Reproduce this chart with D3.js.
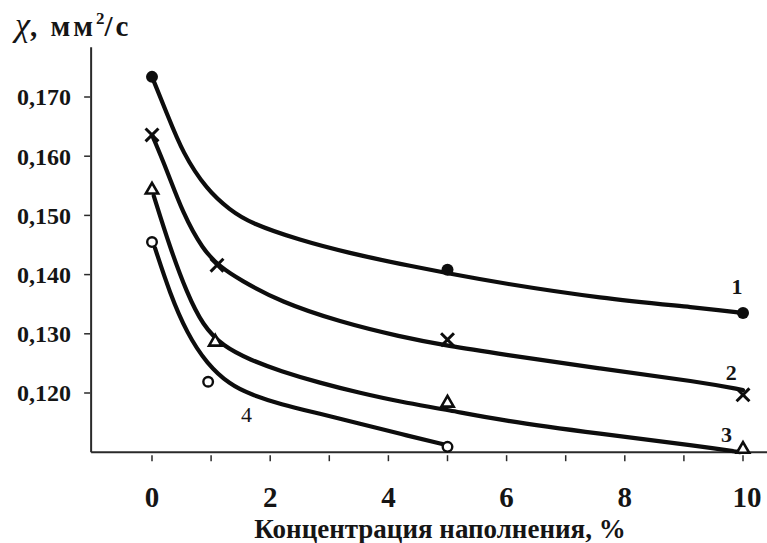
<!DOCTYPE html>
<html>
<head>
<meta charset="utf-8">
<script src="https://cdn.jsdelivr.net/npm/d3@7/dist/d3.min.js"></script>
<style>
  html, body { margin: 0; padding: 0; background: #fff; }
  svg { display: block; }
  text { font-family: "Liberation Serif", "Times New Roman", serif; fill: #151515; }
</style>
</head>
<body>
<svg id="chart" width="767" height="543"></svg>
<script>
// Thermal diffusivity vs filler concentration, four samples.
const xTicks = [0, 2, 4, 6, 8, 10];
const xMinorTicks = [1, 3, 5, 7, 9];
const yTicks = [0.120, 0.130, 0.140, 0.150, 0.160, 0.170];
const yTickLabels = ["0,120", "0,130", "0,140", "0,150", "0,160", "0,170"];
const seriesNames = ["1", "2", "3", "4"];

// measured points [concentration %, χ mm²/s]
const points1 = [[0, 0.1734], [5, 0.1408], [10, 0.1335]];
const points2 = [[0, 0.1636], [1.1, 0.1416], [5, 0.1290], [10, 0.1197]];
const points3 = [[0, 0.1543], [1.07, 0.1286], [5, 0.1183], [10, 0.1105]];
const points4 = [[0, 0.1455], [0.95, 0.1219], [5, 0.1109]];

// smoothed approximating curves
const fit1 = [[0, 0.1734], [0.25, 0.1673], [0.52, 0.1605], [0.93, 0.1543], [1.32, 0.1509], [1.66, 0.1487],
              [2.5, 0.1458], [3.35, 0.1436], [4.2, 0.1418], [5.06, 0.1401], [5.89, 0.1386], [7.58, 0.1360],
              [9.27, 0.1344], [10, 0.1335]];
const fit2 = [[0, 0.1636], [0.25, 0.1577], [0.52, 0.1504], [0.86, 0.1442], [1.15, 0.1413], [1.49, 0.1391],
              [2.17, 0.1354], [3.18, 0.1320], [4.2, 0.1295], [5.03, 0.1279], [5.89, 0.1266], [7.58, 0.1241],
              [9.27, 0.1219], [10, 0.1205]];
const fit3 = [[0.03, 0.1533], [0.3, 0.1447], [0.59, 0.1369], [0.86, 0.1314], [1.2, 0.1279], [1.66, 0.1256],
              [2.17, 0.1237], [2.84, 0.1217], [3.52, 0.1200], [4.2, 0.1185], [5.04, 0.1171], [5.89, 0.1154],
              [7.58, 0.1131], [9.27, 0.1110], [9.95, 0.1100]];
const fit4 = [[0.05, 0.1445], [0.3, 0.1369], [0.59, 0.1301], [0.93, 0.1249], [1.32, 0.1214], [1.66, 0.1198],
              [2.17, 0.1181], [2.84, 0.1165], [3.52, 0.1148], [4.2, 0.1131], [4.99, 0.1112]];

const svg = d3.select("#chart");

const x = d3.scaleLinear().domain([0, 10]).range([152, 743]);
const y = d3.scaleLinear().domain([0.12, 0.17]).range([393, 97]);

const xAxisStart = -1.03, xAxisEnd = 10.42;
const yAxisStart = 0.110, yAxisEnd = 0.1784;
const axisColor = "#2a2a2a";

// axes lines
svg.append("line")
  .attr("x1", x(xAxisStart)).attr("x2", x(xAxisStart))
  .attr("y1", y(yAxisStart)).attr("y2", y(yAxisEnd))
  .attr("stroke", axisColor).attr("stroke-width", 2);
svg.append("line")
  .attr("x1", x(xAxisStart)).attr("x2", x(xAxisEnd))
  .attr("y1", y(yAxisStart)).attr("y2", y(yAxisStart))
  .attr("stroke", axisColor).attr("stroke-width", 2);

// y ticks + labels
const yg = svg.append("g");
yTicks.forEach((v, i) => {
  const yy = y(v);
  yg.append("line").attr("x1", x(xAxisStart) - 7).attr("x2", x(xAxisStart) - 1)
    .attr("y1", yy).attr("y2", yy).attr("stroke", axisColor).attr("stroke-width", 1.5);
  yg.append("text").attr("x", 71).attr("y", yy).attr("dy", "0.35em")
    .attr("text-anchor", "end").attr("font-size", 24).attr("font-weight", "bold")
    .text(yTickLabels[i]);
});

// x ticks + labels
const xg = svg.append("g");
xTicks.concat(xMinorTicks).forEach(v => {
  xg.append("line").attr("x1", x(v)).attr("x2", x(v))
    .attr("y1", y(yAxisStart) + 3).attr("y2", y(yAxisStart) + 9)
    .attr("stroke", axisColor).attr("stroke-width", 1.5);
});
xTicks.forEach(v => {
  xg.append("text").attr("x", x(v) + (v === 10 ? 4 : 0)).attr("y", 507)
    .attr("text-anchor", "middle").attr("font-size", 29).attr("font-weight", "bold")
    .text(String(v));
});

// axis titles
svg.append("text").attr("x", 440).attr("y", 538).attr("text-anchor", "middle")
  .attr("font-size", 27).attr("font-weight", "bold")
  .text("Концентрация наполнения, %");

const title = svg.append("text").attr("x", 15).attr("y", 36);
title.append("tspan").attr("font-style", "italic").attr("font-size", 34).text("χ");
title.append("tspan").attr("font-weight", "bold").attr("font-size", 29).attr("letter-spacing", 3).text(", мм");
title.append("tspan").attr("font-weight", "bold").attr("font-size", 17).attr("dy", -12).text("2");
title.append("tspan").attr("font-weight", "bold").attr("font-size", 29).attr("dy", 12).attr("letter-spacing", 3).text("/с");

// curves
const line = d3.line()
  .x(d => x(d[0])).y(d => y(d[1]))
  .curve(d3.curveBasis);
const fits = [fit1, fit2, fit3, fit4];
svg.append("g").selectAll("path").data(fits).join("path")
  .attr("d", line).attr("fill", "none").attr("stroke", "#0d0d0d")
  .attr("stroke-width", 4.2).attr("stroke-linecap", "round").attr("stroke-linejoin", "round");

// markers
const mg = svg.append("g");
mg.selectAll(".m1").data(points1).join("circle").attr("class", "m1")
  .attr("cx", d => x(d[0])).attr("cy", d => y(d[1])).attr("r", 6)
  .attr("fill", "#0d0d0d");
const timesType = d3.symbolTimes || d3.symbolX || d3.symbolCross;
mg.selectAll(".m2").data(points2).join("path").attr("class", "m2")
  .attr("transform", d => `translate(${x(d[0])},${y(d[1])})`)
  .attr("d", d3.symbol().type(timesType).size(110))
  .attr("fill", "none").attr("stroke", "#0d0d0d").attr("stroke-width", 3);
const triType = d3.symbolTriangle2 || d3.symbolTriangle;
mg.selectAll(".m3").data(points3).join("path").attr("class", "m3")
  .attr("transform", d => `translate(${x(d[0])},${y(d[1])})`)
  .attr("d", d3.symbol().type(triType).size(110))
  .attr("fill", "#fff").attr("stroke", "#0d0d0d").attr("stroke-width", 2.6);
mg.selectAll(".m4").data(points4).join("circle").attr("class", "m4")
  .attr("cx", d => x(d[0])).attr("cy", d => y(d[1])).attr("r", 4.8)
  .attr("fill", "#fff").attr("stroke", "#0d0d0d").attr("stroke-width", 2.4);

// curve numbers
const labelPos = [[9.9, 0.1368], [9.8, 0.1222], [9.72, 0.1117], [1.6, 0.1151]];
svg.append("g").selectAll("text").data(seriesNames).join("text")
  .attr("x", (d, i) => x(labelPos[i][0])).attr("y", (d, i) => y(labelPos[i][1]))
  .attr("text-anchor", "middle").attr("font-size", 22)
  .attr("font-weight", (d, i) => i < 3 ? "bold" : "normal")
  .text(d => d);
</script>
</body>
</html>
